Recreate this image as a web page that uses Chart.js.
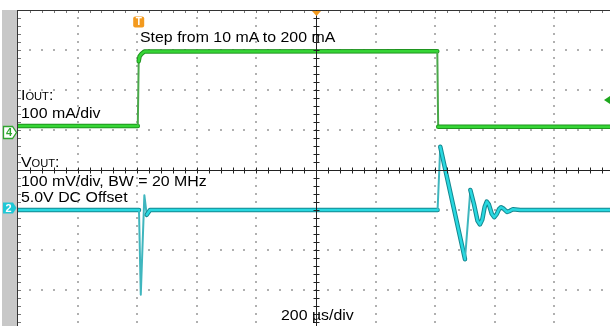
<!DOCTYPE html>
<html>
<head>
<meta charset="utf-8">
<script src="https://cdn.jsdelivr.net/npm/chart.js@4"></script>
<style>
body { margin: 0; background: #fff; }
#wrap { position: relative; width: 610px; height: 326px; overflow: hidden; background: #fff; }
#scope { position: absolute; left: 0; top: 0; }
.lbl { position: absolute; font-family: "Liberation Sans", Arial, sans-serif; font-size: 15px; line-height: 15px;
       color: #000; white-space: nowrap; transform: scaleX(1.06); transform-origin: 0 0; }
.lbl .sub { font-size: 10.5px; }
</style>
</head>
<body>
<div id="wrap">
  <canvas id="scope" width="622" height="340"></canvas>
  <div class="lbl" style="left:140px; top:29px;">Step from 10 mA to 200 mA</div>
  <div class="lbl" style="left:21px; top:87px;">I<span class="sub">OUT</span>:</div>
  <div class="lbl" style="left:21px; top:105px;">100 mA/div</div>
  <div class="lbl" style="left:21px; top:154px;">V<span class="sub">OUT</span>:</div>
  <div class="lbl" style="left:21px; top:173px;">100 mV/div, BW = 20 MHz</div>
  <div class="lbl" style="left:21px; top:189px;">5.0V DC Offset</div>
  <div class="lbl" style="left:281px; top:307px;">200 µs/div</div>
</div>
<script>
// time base: 200 us/div, 10 div, 0 = screen centre
const usPerDiv = 200;
const tMin = -1000, tMax = 1000;
const divMin = -4, divMax = 4;

// channel 4 : output current, 100 mA/div, ground at +1 div
const ch4Pos = 1, mAPerDiv = 100;
const ioutT  = [-1000, -598, -595, -592, -586, -576, 407, 410, 1000];
const ioutMa = [10, 10, 172, 184, 190, 196, 197, 8, 8];

// channel 2 : output voltage (AC part around 5.0 V), 100 mV/div, at -1 div
const ch2Pos = -1, mVPerDiv = 100;
const voutT  = [-1000, -594, -588, -576, -568, -557, 408, 417, 500, 518, 530, 542, 550, 558, 566, 573,
                580, 590, 598, 606, 614, 621, 630, 641, 651, 661, 685, 1000];
const voutMv = [0, 0, -212, 37, -12, 0, 0, 158, -123, 50, 15, -27, -36, -24, 8, 21,
                14, -10, -18, -11, 2, 7, 3, -5, -2, 2, 0, 0];

const trigT = -600;       // trigger point
const trigLevelMa = 75;   // trigger level on ch4

const ioutPts = ioutT.map((t, i) => ({ x: t, y: ch4Pos + ioutMa[i] / mAPerDiv }));
const voutPts = voutT.map((t, i) => ({ x: t, y: ch2Pos + voutMv[i] / mVPerDiv }));

function steep(c) {
  const dx = Math.abs(c.p1.x - c.p0.x), dy = Math.abs(c.p1.y - c.p0.y);
  return dy > 8 * dx;
}

function trace(pts, edge, core, thin) {
  return [
    { data: pts, order: 0, borderColor: core, borderWidth: 2.5,
      segment: { borderColor: c => steep(c) ? 'rgba(0,0,0,0)' : core } },
    { data: pts, order: 1, borderColor: edge, borderWidth: 4.5,
      segment: { borderWidth: c => steep(c) ? 2 : 4.5, borderColor: c => steep(c) ? thin : edge } }
  ];
}

const scopePlugin = {
  id: 'scope',
  beforeDatasetsDraw(chart) {
    const ctx = chart.ctx, xs = chart.scales.x, ys = chart.scales.y;
    const L = xs.left, R = xs.right, T = ys.top;
    ctx.save();
    ctx.fillStyle = '#c8c8c8';
    ctx.fillRect(2, T, L - 3, chart.height - T);

    // dotted graticule
    ctx.fillStyle = '#b0b0b0';
    for (let i = 1; i < 10; i++) {
      if (i === 5) continue;
      const gx = Math.round(xs.getPixelForValue(tMin + i * usPerDiv));
      for (let k = 1; k < 40; k++) {
        const gy = Math.round(ys.getPixelForValue(divMin + k * 0.2));
        ctx.fillRect(gx - 1, gy - 1, 2, 2);
      }
    }
    for (let j = 1; j < 8; j++) {
      if (j === 4) continue;
      const gy = Math.round(ys.getPixelForValue(divMin + j));
      for (let k = 1; k < 50; k++) {
        const gx = Math.round(xs.getPixelForValue(tMin + k * usPerDiv / 5));
        ctx.fillRect(gx - 1, gy - 1, 2, 2);
      }
    }

    // frame: left and top border with minor ticks
    ctx.strokeStyle = '#333';
    ctx.lineWidth = 1;
    ctx.beginPath();
    ctx.moveTo(L - 0.5, T); ctx.lineTo(L - 0.5, chart.height);
    ctx.moveTo(L, T + 0.5); ctx.lineTo(R, T + 0.5);
    ctx.stroke();
    ctx.strokeStyle = '#777';
    ctx.beginPath();
    for (let k = 1; k < 40; k++) {
      const gy = Math.round(ys.getPixelForValue(divMin + k * 0.2)) + 0.5;
      ctx.moveTo(L, gy); ctx.lineTo(L + 3, gy);
    }
    for (let k = 1; k < 50; k++) {
      const gx = Math.round(xs.getPixelForValue(tMin + k * usPerDiv / 5)) + 0.5;
      ctx.moveTo(gx, T + 1); ctx.lineTo(gx, T + 3);
    }
    ctx.stroke();
    ctx.restore();
  },
  afterDatasetsDraw(chart) {
    const ctx = chart.ctx, xs = chart.scales.x, ys = chart.scales.y;
    const L = xs.left, R = xs.right, T = ys.top, B = ys.bottom;
    const cx = Math.round(xs.getPixelForValue(0)) + 0.5;
    const cy = Math.round(ys.getPixelForValue(0)) + 0.5;
    ctx.save();
    // centre cross with minor ticks
    ctx.strokeStyle = '#222';
    ctx.lineWidth = 1;
    ctx.beginPath();
    ctx.moveTo(cx, T); ctx.lineTo(cx, B);
    ctx.moveTo(L, cy); ctx.lineTo(R, cy);
    for (let k = 1; k < 40; k++) {
      const gy = Math.round(ys.getPixelForValue(divMin + k * 0.2)) + 0.5;
      ctx.moveTo(cx - 3, gy); ctx.lineTo(cx + 3, gy);
    }
    for (let k = 1; k < 50; k++) {
      const gx = Math.round(xs.getPixelForValue(tMin + k * usPerDiv / 5)) + 0.5;
      ctx.moveTo(gx, cy - 3); ctx.lineTo(gx, cy + 3);
    }
    ctx.stroke();

    // horizontal position marker (top centre)
    ctx.fillStyle = '#f39a1e';
    ctx.beginPath();
    ctx.moveTo(cx - 4.5, T + 1); ctx.lineTo(cx + 4.5, T + 1); ctx.lineTo(cx, T + 6);
    ctx.closePath(); ctx.fill();

    // trigger marker
    const tx = xs.getPixelForValue(trigT) + 1.5;
    ctx.beginPath();
    ctx.roundRect(tx - 5.5, T + 6.5, 11, 11, 2);
    ctx.fill();
    ctx.fillStyle = '#fff';
    ctx.font = 'bold 10px "Liberation Sans", Arial';
    ctx.textAlign = 'center';
    ctx.textBaseline = 'middle';
    ctx.fillText('T', tx, T + 12.5);

    // channel 4 ground marker
    const y4 = Math.round(ys.getPixelForValue(ch4Pos)) + 2.5;
    ctx.beginPath();
    ctx.moveTo(3.5, y4 - 6); ctx.lineTo(12.5, y4 - 6); ctx.lineTo(16.5, y4);
    ctx.lineTo(12.5, y4 + 6); ctx.lineTo(3.5, y4 + 6); ctx.closePath();
    ctx.fillStyle = '#fff'; ctx.fill();
    ctx.strokeStyle = '#2ea52e'; ctx.lineWidth = 1.3; ctx.stroke();
    ctx.fillStyle = '#2ea52e';
    ctx.font = 'bold 11px "Liberation Sans", Arial';
    ctx.fillText('4', 9, y4 + 0.5);

    // channel 2 offset marker
    const y2 = Math.round(ys.getPixelForValue(ch2Pos)) - 2;
    ctx.beginPath();
    ctx.moveTo(3, y2 - 5.5); ctx.lineTo(13, y2 - 5.5); ctx.lineTo(16.5, y2);
    ctx.lineTo(13, y2 + 5.5); ctx.lineTo(3, y2 + 5.5); ctx.closePath();
    ctx.fillStyle = '#1fc8d6'; ctx.fill();
    ctx.fillStyle = '#fff';
    ctx.fillText('2', 8.5, y2 + 0.5);

    // trigger level arrow
    const yt = ys.getPixelForValue(ch4Pos + trigLevelMa / mAPerDiv);
    ctx.fillStyle = '#1ea81e';
    ctx.beginPath();
    ctx.moveTo(604, yt); ctx.lineTo(610, yt - 4); ctx.lineTo(610, yt + 4);
    ctx.closePath(); ctx.fill();
    ctx.restore();
  }
};

new Chart(document.getElementById('scope'), {
  type: 'line',
  data: {
    datasets: [
      ...trace(ioutPts, '#1f941f', '#36d636', '#4aa84a'),
      ...trace(voutPts, '#148890', '#28d8e0', '#3fb6be')
    ]
  },
  options: {
    responsive: false,
    animation: false,
    devicePixelRatio: 1,
    layout: { padding: { left: 18, top: 10, right: 8, bottom: 10 } },
    elements: { point: { radius: 0 }, line: { tension: 0, borderJoinStyle: 'round', borderCapStyle: 'round' } },
    scales: {
      x: { type: 'linear', min: tMin, max: tMax, display: false },
      y: { type: 'linear', min: divMin, max: divMax, display: false }
    },
    plugins: { legend: { display: false }, tooltip: { enabled: false } }
  },
  plugins: [scopePlugin]
});
</script>
</body>
</html>
